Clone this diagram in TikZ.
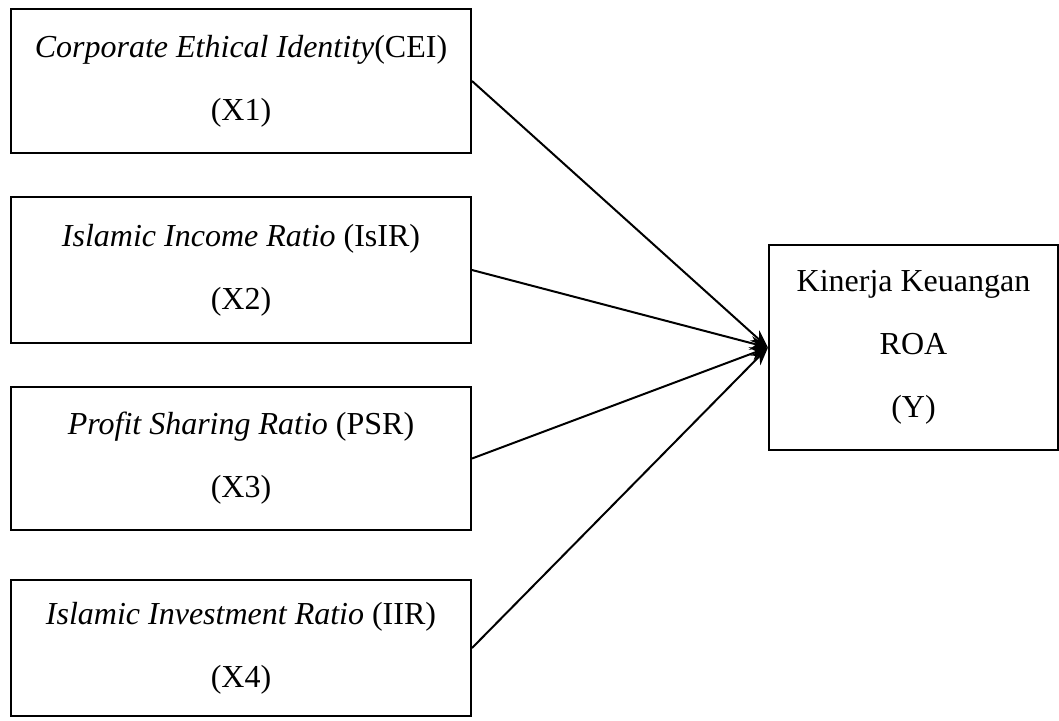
\documentclass[tikz,border=0pt]{standalone}
\usepackage{fontspec}
\setmainfont{Liberation Serif}
\usetikzlibrary{positioning, arrows.meta}

\tikzset{
  varbox/.style={draw, line width=1pt, minimum width=230pt, minimum height=72pt,
    align=center, inner sep=0pt, font=\fontsize{16}{31.5}\selectfont},
  link/.style={line width=1pt, -{Stealth[length=9pt, width=7pt]}}
}

\begin{document}
\begin{tikzpicture}[x=0.5pt, y=-0.5pt]
    \useasboundingbox (0,0) rectangle (1059,720);

    % independent variables
    \node[varbox] (x1) at (241,81) {\textit{Corporate Ethical Identity}(CEI)\\(X1)};
    \node[varbox, minimum height=73pt] (x2) at (241,270) {\textit{Islamic Income Ratio} (IsIR)\\(X2)};
    \node[varbox, minimum height=71.5pt] (x3) at (241,458.5) {\textit{Profit Sharing Ratio} (PSR)\\(X3)};
    \node[varbox, minimum height=68pt] (x4) at (241,648) {\textit{Islamic Investment Ratio} (IIR)\\(X4)};

    % dependent variable
    \node[varbox, minimum width=144.5pt, minimum height=102.5pt] (y) at (913.5,347.5) {Kinerja Keuangan\\ROA\\(Y)};

    \foreach \v in {x1,x2,x3,x4}
        \draw[link] (\v.east) -- (y.west);

\end{tikzpicture}
\end{document}
